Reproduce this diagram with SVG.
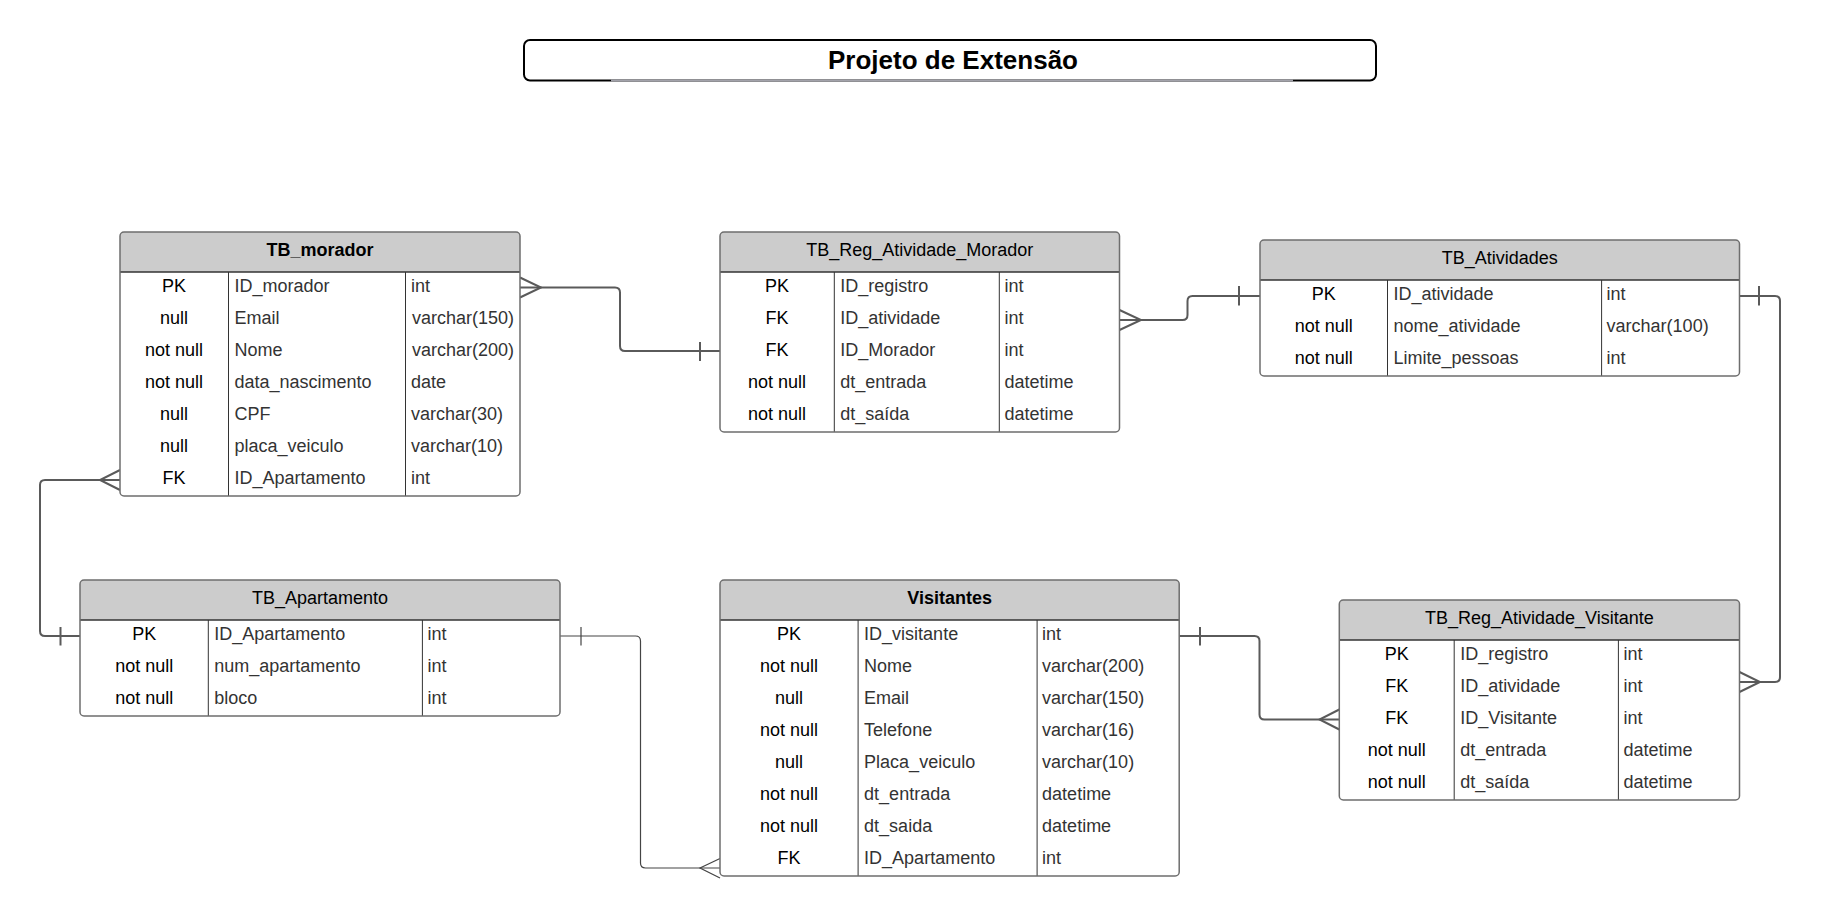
<svg xmlns="http://www.w3.org/2000/svg" width="1821" height="919" viewBox="0 0 1821 919">
<style>
text{font-family:"Liberation Sans",Arial,sans-serif;font-size:18px}
.hd{fill:#cccccc;stroke:none}
.ob{fill:none;stroke:#6e6e6e;stroke-width:1.5}
.hl{stroke:#333;stroke-width:1.5}
.dv{stroke:#333;stroke-width:1}
.h{fill:#000;text-anchor:middle}
.b{font-weight:bold}
.k{fill:#000;text-anchor:middle}
.n{fill:#333}
.c{fill:none;stroke:#5a5a5a;stroke-width:2}
.c1{fill:none;stroke:#444;stroke-width:1.2}
</style>
<rect width="1821" height="919" fill="#fff"/>
<g id="title">
<rect x="524" y="40" width="852" height="40.5" rx="6" fill="#fff" stroke="#000" stroke-width="2"/>
<line x1="611" y1="80.5" x2="1293" y2="80.5" stroke="#a2a2aa" stroke-width="2"/>
<text x="953" y="68.5" text-anchor="middle" font-weight="bold" style="font-size:26px">Projeto de Extensão</text>
</g>
<g id="connectors">
<path class="c" d="M520,287.5 H615 Q620,287.5 620,292.5 V346 Q620,351 625,351 H720"/>
<path class="c" d="M520,277.5 L541,287.5 L520,297.5 M700,342 V361"/>
<path class="c" d="M1119.5,320 H1182.5 Q1187.5,320 1187.5,315 V301 Q1187.5,296 1192.5,296 H1260"/>
<path class="c" d="M1119.5,310 L1141,320 L1119.5,330 M1239,286 V305.5"/>
<path class="c" d="M1739.5,296 H1775 Q1780,296 1780,301 V677 Q1780,682 1775,682 H1739.5"/>
<path class="c" d="M1759,286 V305.5 M1739.5,672 L1760,682 L1739.5,692"/>
<path class="c" d="M120,480 H45 Q40,480 40,485 V631 Q40,636 45,636 H80"/>
<path class="c" d="M120,470 L100,480 L120,490 M60.5,627 V645.5"/>
<path class="c1" d="M560,636 H635.5 Q640.5,636 640.5,641 V863 Q640.5,868 645.5,868 H720"/>
<path class="c1" d="M720,858.5 L700,868 L720,878 M581,627 V645.5"/>
<path class="c" d="M1179.2,636 H1254.5 Q1259.5,636 1259.5,641 V714.5 Q1259.5,719.5 1264.5,719.5 H1339.3"/>
<path class="c" d="M1339.3,709.5 L1319.5,719.5 L1339.3,729.5 M1200,627 V645.5"/>
</g>
<g id="TB_morador" transform="translate(120,232)">
<rect width="400" height="264" rx="4" fill="#fff"/>
<path class="hd" d="M0,40 V4 Q0,0 4,0 H396 Q400,0 400,4 V40 Z"/>
<line class="hl" x1="0" y1="40" x2="400" y2="40"/>
<line class="dv" x1="108.5" y1="40" x2="108.5" y2="264"/>
<line class="dv" x1="285.5" y1="40" x2="285.5" y2="264"/>
<rect class="ob" width="400" height="264" rx="4"/>
<text class="h b" x="200" y="23.5">TB_morador</text>
<text class="k" x="54" y="59.5">PK</text><text class="n" x="114.5" y="59.5">ID_morador</text><text class="n" x="291" y="59.5">int</text>
<text class="k" x="54" y="91.5">null</text><text class="n" x="114.5" y="91.5">Email</text><text class="n" x="292" y="91.5">varchar(150)</text>
<text class="k" x="54" y="123.5">not null</text><text class="n" x="114.5" y="123.5">Nome</text><text class="n" x="292" y="123.5">varchar(200)</text>
<text class="k" x="54" y="155.5">not null</text><text class="n" x="114.5" y="155.5">data_nascimento</text><text class="n" x="291" y="155.5">date</text>
<text class="k" x="54" y="187.5">null</text><text class="n" x="114.5" y="187.5">CPF</text><text class="n" x="291" y="187.5">varchar(30)</text>
<text class="k" x="54" y="219.5">null</text><text class="n" x="114.5" y="219.5">placa_veiculo</text><text class="n" x="291" y="219.5">varchar(10)</text>
<text class="k" x="54" y="251.5">FK</text><text class="n" x="114.5" y="251.5">ID_Apartamento</text><text class="n" x="291" y="251.5">int</text>
</g>
<g id="TB_Reg_Atividade_Morador" transform="translate(720,232)">
<rect width="399.5" height="200" rx="4" fill="#fff"/>
<path class="hd" d="M0,40 V4 Q0,0 4,0 H395.5 Q399.5,0 399.5,4 V40 Z"/>
<line class="hl" x1="0" y1="40" x2="399.5" y2="40"/>
<line class="dv" x1="114.3" y1="40" x2="114.3" y2="200"/>
<line class="dv" x1="279.3" y1="40" x2="279.3" y2="200"/>
<rect class="ob" width="399.5" height="200" rx="4"/>
<text class="h" x="199.8" y="23.5">TB_Reg_Atividade_Morador</text>
<text class="k" x="57" y="59.5">PK</text><text class="n" x="120.3" y="59.5">ID_registro</text><text class="n" x="284.5" y="59.5">int</text>
<text class="k" x="57" y="91.5">FK</text><text class="n" x="120.3" y="91.5">ID_atividade</text><text class="n" x="284.5" y="91.5">int</text>
<text class="k" x="57" y="123.5">FK</text><text class="n" x="120.3" y="123.5">ID_Morador</text><text class="n" x="284.5" y="123.5">int</text>
<text class="k" x="57" y="155.5">not null</text><text class="n" x="120.3" y="155.5">dt_entrada</text><text class="n" x="284.5" y="155.5">datetime</text>
<text class="k" x="57" y="187.5">not null</text><text class="n" x="120.3" y="187.5">dt_saída</text><text class="n" x="284.5" y="187.5">datetime</text>
</g>
<g id="TB_Atividades" transform="translate(1260,240)">
<rect width="479.5" height="136" rx="4" fill="#fff"/>
<path class="hd" d="M0,40 V4 Q0,0 4,0 H475.5 Q479.5,0 479.5,4 V40 Z"/>
<line class="hl" x1="0" y1="40" x2="479.5" y2="40"/>
<line class="dv" x1="127.5" y1="40" x2="127.5" y2="136"/>
<line class="dv" x1="341.6" y1="40" x2="341.6" y2="136"/>
<rect class="ob" width="479.5" height="136" rx="4"/>
<text class="h" x="239.8" y="23.5">TB_Atividades</text>
<text class="k" x="63.7" y="59.5">PK</text><text class="n" x="133.5" y="59.5">ID_atividade</text><text class="n" x="346.6" y="59.5">int</text>
<text class="k" x="63.7" y="91.5">not null</text><text class="n" x="133.5" y="91.5">nome_atividade</text><text class="n" x="346.6" y="91.5">varchar(100)</text>
<text class="k" x="63.7" y="123.5">not null</text><text class="n" x="133.5" y="123.5">Limite_pessoas</text><text class="n" x="346.6" y="123.5">int</text>
</g>
<g id="TB_Apartamento" transform="translate(80,580)">
<rect width="480" height="136" rx="4" fill="#fff"/>
<path class="hd" d="M0,40 V4 Q0,0 4,0 H476 Q480,0 480,4 V40 Z"/>
<line class="hl" x1="0" y1="40" x2="480" y2="40"/>
<line class="dv" x1="128.3" y1="40" x2="128.3" y2="136"/>
<line class="dv" x1="342.4" y1="40" x2="342.4" y2="136"/>
<rect class="ob" width="480" height="136" rx="4"/>
<text class="h" x="240" y="23.5">TB_Apartamento</text>
<text class="k" x="64.2" y="59.5">PK</text><text class="n" x="134.3" y="59.5">ID_Apartamento</text><text class="n" x="347.4" y="59.5">int</text>
<text class="k" x="64.2" y="91.5">not null</text><text class="n" x="134.3" y="91.5">num_apartamento</text><text class="n" x="347.4" y="91.5">int</text>
<text class="k" x="64.2" y="123.5">not null</text><text class="n" x="134.3" y="123.5">bloco</text><text class="n" x="347.4" y="123.5">int</text>
</g>
<g id="Visitantes" transform="translate(720,580)">
<rect width="459.2" height="296" rx="4" fill="#fff"/>
<path class="hd" d="M0,40 V4 Q0,0 4,0 H455.2 Q459.2,0 459.2,4 V40 Z"/>
<line class="hl" x1="0" y1="40" x2="459.2" y2="40"/>
<line class="dv" x1="138.1" y1="40" x2="138.1" y2="296"/>
<line class="dv" x1="317.1" y1="40" x2="317.1" y2="296"/>
<rect class="ob" width="459.2" height="296" rx="4"/>
<text class="h b" x="229.6" y="23.5">Visitantes</text>
<text class="k" x="69" y="59.5">PK</text><text class="n" x="144.1" y="59.5">ID_visitante</text><text class="n" x="322.1" y="59.5">int</text>
<text class="k" x="69" y="91.5">not null</text><text class="n" x="144.1" y="91.5">Nome</text><text class="n" x="322.1" y="91.5">varchar(200)</text>
<text class="k" x="69" y="123.5">null</text><text class="n" x="144.1" y="123.5">Email</text><text class="n" x="322.1" y="123.5">varchar(150)</text>
<text class="k" x="69" y="155.5">not null</text><text class="n" x="144.1" y="155.5">Telefone</text><text class="n" x="322.1" y="155.5">varchar(16)</text>
<text class="k" x="69" y="187.5">null</text><text class="n" x="144.1" y="187.5">Placa_veiculo</text><text class="n" x="322.1" y="187.5">varchar(10)</text>
<text class="k" x="69" y="219.5">not null</text><text class="n" x="144.1" y="219.5">dt_entrada</text><text class="n" x="322.1" y="219.5">datetime</text>
<text class="k" x="69" y="251.5">not null</text><text class="n" x="144.1" y="251.5">dt_saida</text><text class="n" x="322.1" y="251.5">datetime</text>
<text class="k" x="69" y="283.5">FK</text><text class="n" x="144.1" y="283.5">ID_Apartamento</text><text class="n" x="322.1" y="283.5">int</text>
</g>
<g id="TB_Reg_Atividade_Visitante" transform="translate(1339.3,600)">
<rect width="400.2" height="200" rx="4" fill="#fff"/>
<path class="hd" d="M0,40 V4 Q0,0 4,0 H396.2 Q400.2,0 400.2,4 V40 Z"/>
<line class="hl" x1="0" y1="40" x2="400.2" y2="40"/>
<line class="dv" x1="114.9" y1="40" x2="114.9" y2="200"/>
<line class="dv" x1="279.1" y1="40" x2="279.1" y2="200"/>
<rect class="ob" width="400.2" height="200" rx="4"/>
<text class="h" x="200.1" y="23.5">TB_Reg_Atividade_Visitante</text>
<text class="k" x="57.5" y="59.5">PK</text><text class="n" x="120.9" y="59.5">ID_registro</text><text class="n" x="284.1" y="59.5">int</text>
<text class="k" x="57.5" y="91.5">FK</text><text class="n" x="120.9" y="91.5">ID_atividade</text><text class="n" x="284.1" y="91.5">int</text>
<text class="k" x="57.5" y="123.5">FK</text><text class="n" x="120.9" y="123.5">ID_Visitante</text><text class="n" x="284.1" y="123.5">int</text>
<text class="k" x="57.5" y="155.5">not null</text><text class="n" x="120.9" y="155.5">dt_entrada</text><text class="n" x="284.1" y="155.5">datetime</text>
<text class="k" x="57.5" y="187.5">not null</text><text class="n" x="120.9" y="187.5">dt_saída</text><text class="n" x="284.1" y="187.5">datetime</text>
</g>
</svg>
